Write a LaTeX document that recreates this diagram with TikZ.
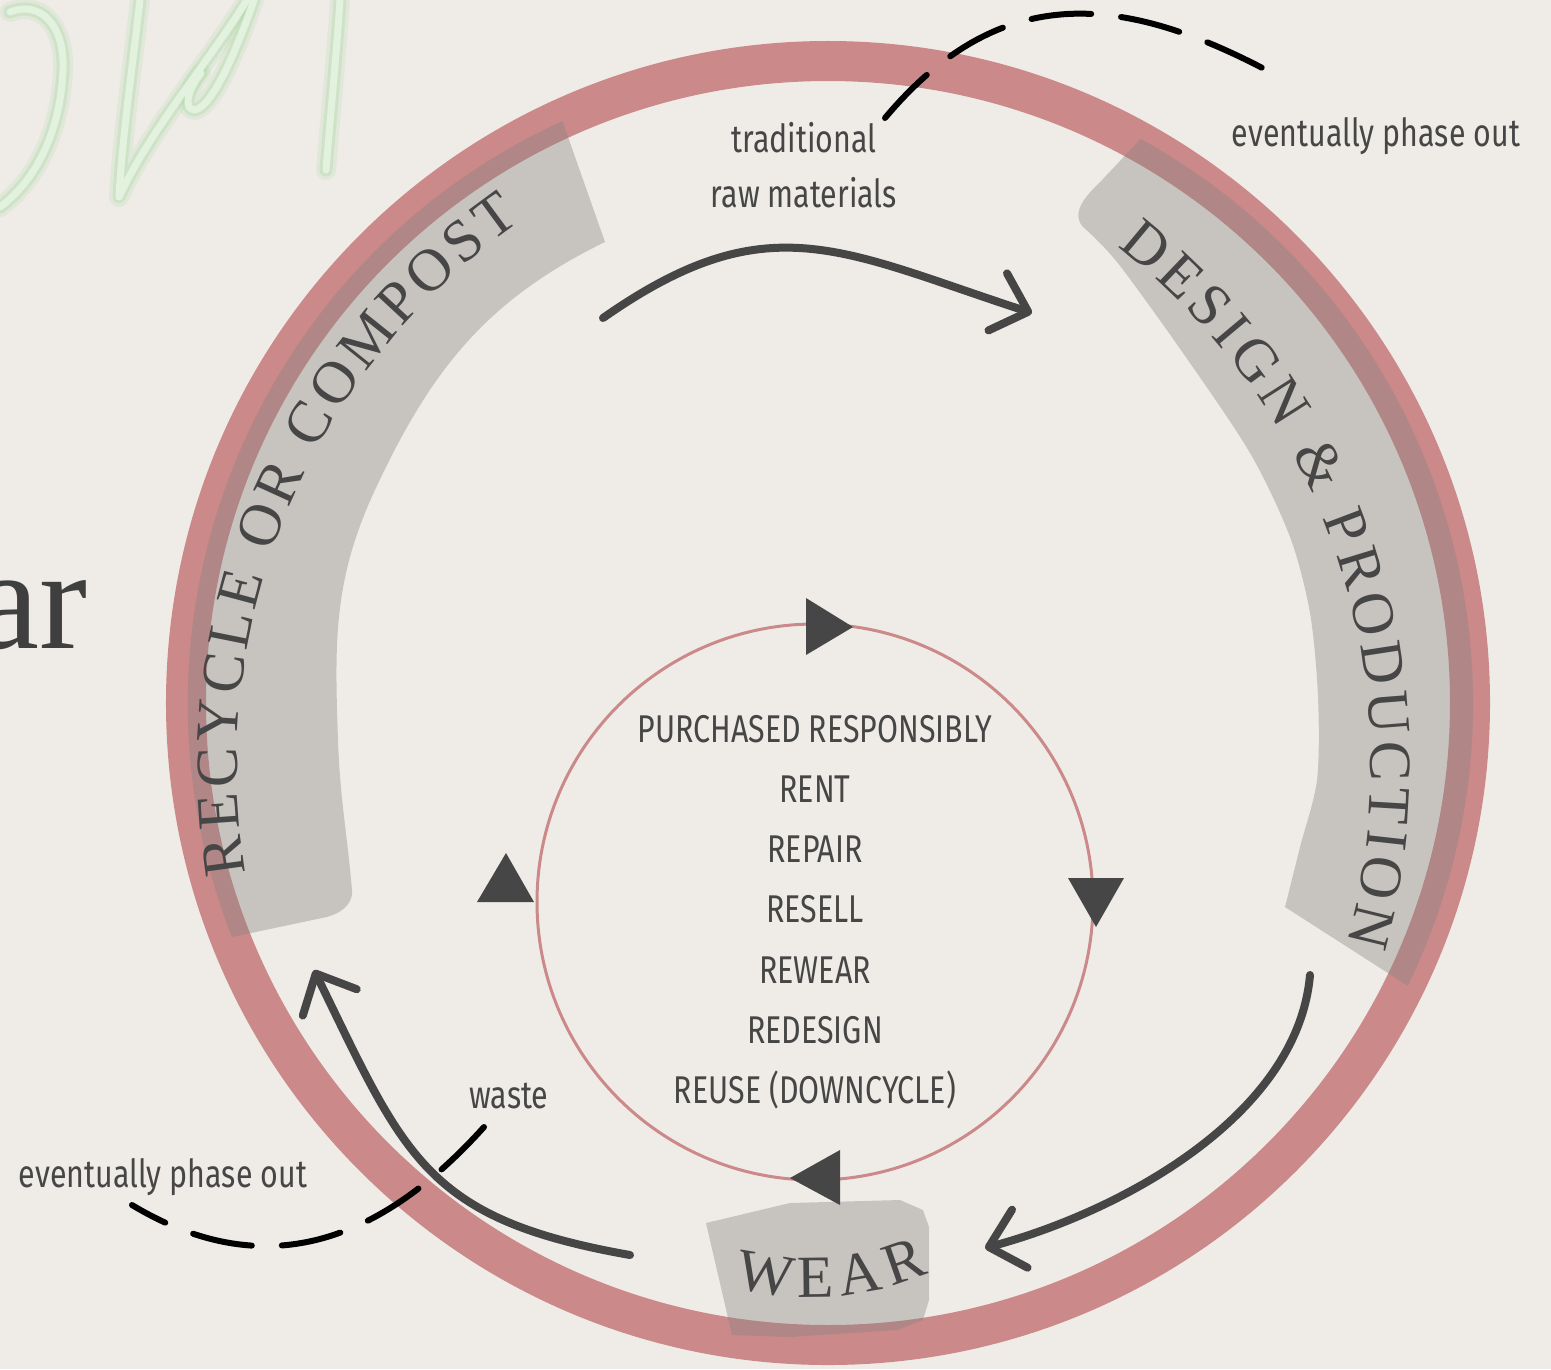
\documentclass[tikz,border=0pt]{standalone}
\usepackage{fontspec}
\usetikzlibrary{arrows.meta,decorations.text}
\newfontfamily\labelfont[FakeStretch=0.785]{Fira Sans}
\newfontfamily\stagefont{Liberation Serif}
\definecolor{paper}{RGB}{239,236,231}
\definecolor{ringred}{RGB}{203,137,137}
\definecolor{ink}{RGB}{70,70,70}
\definecolor{bandgray}{RGB}{134,132,130}
\definecolor{neon}{RGB}{226,242,222}
\definecolor{glow}{RGB}{165,215,160}

\begin{document}
\begin{tikzpicture}[x=0.01cm, y=0.01cm,
  band/.style={fill=bandgray, fill opacity=0.38},
  flow/.style={draw=ink, line width=0.08cm, line cap=round,
    -{Straight Barb[length=0.32cm,width=0.6cm,round]}},
  phaseout/.style={draw=black, line width=0.06cm, line cap=round,
    dash pattern=on 0.6cm off 0.3cm},
  label/.style={text=ink, font=\labelfont\fontsize{11}{13}\selectfont,
    inner sep=0pt, anchor=base},
  arctext/.style={decorate, decoration={text along path,
    text align=fit to path, text color=ink}},
  neonline/.style={line cap=round, line join=round}
]
\fill[paper] (0,0) rectangle (1551,-1369);
\useasboundingbox (0,0) rectangle (1551,-1369);
\clip (0,0) rectangle (1551,-1369);

% title remains
\foreach \w/\c/\o in {0.2cm/glow/0.18, 0.13cm/glow/0.3, 0.07cm/neon/1} {
  \draw[neonline, draw=\c, draw opacity=\o, line width=\w]
    (0,-207) .. controls (30,-185) and (60,-140) .. (63,-70)
    .. controls (65,-25) and (40,0) .. (10,-12);
  \draw[neonline, draw=\c, draw opacity=\o, line width=\w]
    (140,0) .. controls (132,-70) and (122,-140) .. (119,-197)
    .. controls (150,-130) and (210,-60) .. (247,0);
  \draw[neonline, draw=\c, draw opacity=\o, line width=\w]
    (201,-73) .. controls (186,-92) and (184,-110) .. (195,-110)
    .. controls (215,-105) and (240,-40) .. (254,0);
  \draw[neonline, draw=\c, draw opacity=\o, line width=\w]
    (340,0) .. controls (336,-60) and (330,-120) .. (326,-170);
}
\node[text=ink!90!black, font=\stagefont\fontsize{41}{41}\selectfont, inner sep=0pt,
  anchor=base east] (ar) at (88,-648) {ar};

\draw[ringred, line width=0.4cm] (828,-703) circle[radius=642];

\fill[band] (232,-937) arc[start angle=201.4, end angle=114.5, radius=640]
  -- (605,-242) to[out=206, in=65] (375,-490) to[out=245, in=92] (338,-740)
  to[out=272, in=95] (352,-890) to[out=275, in=10] (322,-918) -- cycle;
\fill[band] ([shift={(828,-703)}]61:645) arc[start angle=61, end angle=-26, radius=645]
  -- plot[smooth] coordinates {(1285,-907) (1300,-847) (1317,-780) (1318,-697)
    (1310,-613) (1290,-537) (1250,-453) (1183,-353) (1117,-262) (1082,-226)}
  to[out=125, in=225] (1102,-180) -- cycle;
\fill[band] (706,-1223) -- (790,-1203) -- (900,-1200) -- (923,-1210) -- (929,-1227)
  -- (929,-1300) -- (923,-1320) -- (897,-1330) -- (790,-1337) -- (732,-1335) -- cycle;

\path[arctext, decoration={text={|\stagefont\fontsize{17}{17}\selectfont|RECYCLE OR COMPOST}}]
  ([shift={(898,-764)}]189.5:661) arc[start angle=189.5, end angle=124.8, radius=661];
\path[arctext, decoration={text={|\stagefont\fontsize{17}{17}\selectfont|DESIGN {\&} PRODUCTION}}]
  ([shift={(713,-766)}]52.1:658) arc[start angle=52.1, end angle=-15.6, radius=658];
\path[arctext, decoration={text={|\stagefont\fontsize{17}{17}\selectfont|WEAR}}]
  ([shift={(812,-997)}]-105:300) arc[start angle=-105, end angle=-67, radius=300];

\draw[ringred, line width=0.03cm] (815,-902) circle[radius=278];
\fill[ink] (806,-598) -- (806,-655) -- (853,-627) -- cycle;
\fill[ink] (1068,-878) -- (1124,-878) -- (1096,-927) -- cycle;
\fill[ink] (840,-1150) -- (790,-1178) -- (840,-1205) -- cycle;
\fill[ink] (477,-902) -- (534,-902) -- (506,-853) -- cycle;

\foreach \txt [count=\i] in {PURCHASED RESPONSIBLY, RENT, REPAIR, RESELL,
    REWEAR, REDESIGN, REUSE (DOWNCYCLE)}
  \node[label] (item-\i) at (815,{-742-60.3*(\i-1)}) {\txt};

\node[label] (trad) at (804,-152) {traditional};
\node[label] (rawmat) at (804,-207) {raw materials};
\node[label] (phase-top) at (1376,-146) {eventually phase out};
\node[label] (phase-bottom) at (163,-1187) {eventually phase out};
\node[label] (waste) at (509,-1108) {waste};

\coordinate (make-from) at (603,-318);
\coordinate (make-to) at (1032,-313);
\coordinate (wear-from) at (1310,-975);
\coordinate (wear-to) at (985,-1248);
\coordinate (waste-from) at (630,-1255);
\coordinate (waste-to) at (314,-970);
\draw[flow] (make-from) to[out=35, in=162, looseness=1.2] (make-to);
\draw[flow] (wear-from) to[out=265, in=15, looseness=0.85] (wear-to);
\draw[flow] (waste-from) to[out=170, in=-64, looseness=1.25] (waste-to);

\coordinate (raw-out) at (885,-118);
\coordinate (raw-end) at (1270,-72);
\coordinate (waste-out) at (484,-1127);
\coordinate (waste-end) at (132,-1205);
\draw[phaseout] (raw-out) to[out=50, in=152, looseness=1.15] (raw-end);
\draw[phaseout] (waste-out) to[out=228, in=-31, looseness=1.1] (waste-end);
\end{tikzpicture}
\end{document}
